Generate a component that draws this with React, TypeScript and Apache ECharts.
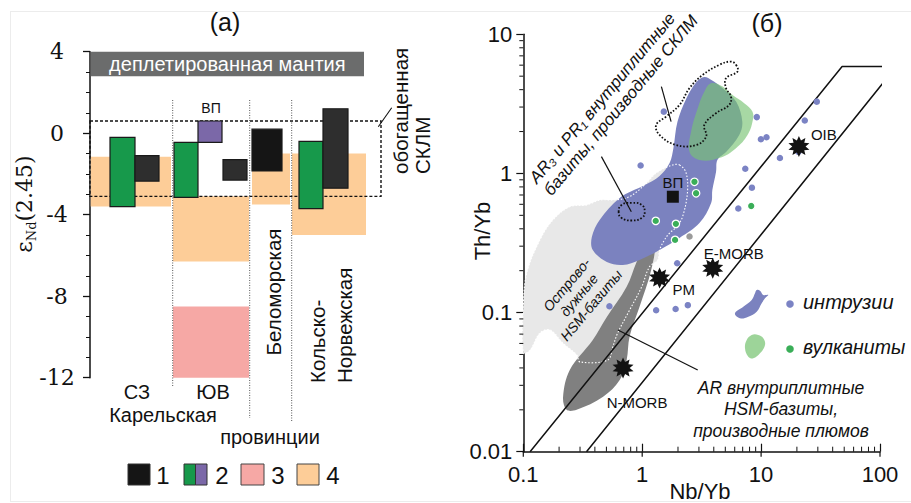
import React, { useEffect, useRef } from 'react';
import * as echarts from 'echarts';

const SANS = "'Liberation Sans', Arial, Helvetica, sans-serif";
const SERIF = "'DejaVu Serif', 'Liberation Serif', 'Noto Serif', 'Times New Roman', serif";

// ---------------- panel (a): εNd(2.45) ----------------
const provinces = ['СЗ', 'ЮВ', 'Беломорская', 'Кольско-Норвежская'];
const depletedMantle = [4, 2.8];
const enrichedSCLM = [0.6, -3.1];
const field4Top = [-1.15, -3.1, -1.0, -1.0];
const field4Bottom = [-3.6, -6.3, -3.5, -5.0];
const field3YuV = [-8.5, -12];
const type2GreenTop = [-0.2, -0.45, null, -0.4];
const type2GreenBottom = [-3.6, -3.15, null, -3.7];
const type2VP = [0.6, -0.45];
const type1Top = [-1.1, -1.3, 0.2, 1.2];
const type1Bottom = [-2.35, -2.3, -1.85, -2.7];

// ---------------- panel (б): Th/Yb vs Nb/Yb ----------------
const mantleArray = [[0.114, 0.01], [48, 5.86], [137, 5.86], [0.34, 0.01]];
const islandArcField = [[2.06, 1.15], [2.34, 1.01], [2.4, 0.724], [2.18, 0.486], [1.94, 0.412], [1.7, 0.373], [1.54, 0.333], [1.4, 0.282], [1.35, 0.239], [1.15, 0.213], [0.99, 0.153], [0.783, 0.104], [0.622, 0.0713], [0.565, 0.0566], [0.513, 0.0456], [0.299, 0.0442], [0.282, 0.0495], [0.216, 0.0601], [0.168, 0.075], [0.138, 0.0713], [0.114, 0.0538], [0.1, 0.0513], [0.1, 0.11], [0.107, 0.193], [0.138, 0.333], [0.178, 0.464], [0.246, 0.577], [0.342, 0.594], [0.44, 0.644], [0.565, 0.644], [0.74, 0.667], [0.897, 0.736], [1.09, 0.855], [1.32, 1.01], [1.8, 1.15]];
const plumeField = [[1.05, 0.306], [1.27, 0.316], [1.19, 0.202], [0.95, 0.11], [0.783, 0.0672], [0.74, 0.0456], [0.647, 0.0327], [0.469, 0.0248], [0.281, 0.02], [0.231, 0.02], [0.216, 0.0248], [0.246, 0.0387], [0.384, 0.0635], [0.504, 0.0929], [0.74, 0.153], [0.897, 0.231]];
const intrusionField = [[3.33, 4.94], [3.82, 4.7], [4.72, 4.12], [6.18, 3.27], [6.95, 2.35], [6.55, 1.89], [5.1, 1.43], [4.29, 1.25], [4.18, 1.03], [3.89, 0.76], [3.8, 0.614], [3.03, 0.44], [2.06, 0.344], [1.4, 0.282], [0.95, 0.239], [0.686, 0.22], [0.504, 0.231], [0.384, 0.282], [0.377, 0.349], [0.44, 0.464], [0.647, 0.667], [1.05, 0.826], [1.4, 0.96], [1.7, 1.19], [1.83, 1.52], [1.98, 2.35], [2.36, 3.49], [2.86, 4.55]];
const volcanicField = [[3.8, 4.45], [4.75, 4.21], [5.75, 3.66], [7.21, 3.2], [8.47, 2.78], [8.47, 2.36], [7.69, 1.89], [6.15, 1.52], [4.45, 1.29], [3.03, 1.25], [2.5, 1.43], [2.58, 2.0], [2.93, 2.94], [3.33, 3.87]];
const sclmLoop = [[6.15, 6.03], [6.34, 5.4], [5.07, 4.83], [5.07, 4.1], [5.58, 3.57], [5.4, 3.11], [4.18, 2.71], [3.33, 2.23], [3.45, 1.84], [2.84, 1.6], [1.93, 1.6], [1.4, 1.89], [1.31, 2.23], [1.59, 2.56], [2.06, 3.11], [2.5, 4.1], [3.23, 5.11], [4.45, 6.03], [5.58, 6.37]];
const sclmSmall = [[0.634, 0.528], [0.671, 0.594], [0.815, 0.614], [0.99, 0.594], [1.05, 0.528], [0.99, 0.479], [0.815, 0.459], [0.671, 0.479]];
const leaderLines = [
  [[1.45, 4.21], [1.75, 2.36]],
  [[0.454, 1.32], [0.81, 0.53]],
  [[0.625, 0.075], [2.93, 0.0387]],
];
const intrusionPoints = [[1.52, 2.78], [0.97, 1.14], [9.2, 2.54], [9.96, 1.76], [11.1, 1.82], [29.4, 3.28], [23.3, 2.4], [14.4, 1.29], [20.6, 1.43], [7.36, 1.08], [8.37, 0.79], [6.43, 0.56], [1.97, 0.226], [1.31, 0.104], [1.91, 0.106], [2.42, 0.113], [0.53, 0.111]];
const volcanicPoints = [[2.75, 0.87], [2.84, 0.72], [1.3, 0.456], [1.92, 0.434], [1.89, 0.333], [8.26, 0.583]];
const otherPoints = [[2.5, 0.352]];
const referenceNames = ['OIB', 'PM', 'E-MORB', 'N-MORB'];
const referenceNbYb = [20.8, 1.4, 3.92, 0.69];
const referenceThYb = [1.56, 0.177, 0.208, 0.04];
const vpPoint = [1.81, 0.68];

// ---------------- layout (pixel-like units along panel (a) x axis) ----------------
const LA = {
  field4: [[0.7, 81], [83, 159], [162, 200], [202, 276]],
  field3: [83, 159],
  green: [[20, 45], [84, 108], null, [209, 233]],
  dark: [[45, 69], [133, 157], [162, 192], [233, 258]],
  vp: [108, 132],
  depleted: [0.7, 274],
  sclm: [0, 291],
};
const labelOffsets = [[12, -12, 'left'], [13, 11, 'left'], [21, -15, 'center'], [14, 35, 'center']];

const C = {
  orange: '#fdcd98', pink: '#f6a8a5', green: '#17994b', purple: '#7b68a8',
  dark: '#2e2e2e', black: '#151515', mantle: '#6b6c6c',
  blue: '#7b82bf', volc: 'rgba(120,195,115,0.65)', plume: '#808080', arc: '#e8e8e8',
  bluePt: '#7b83c4', greenPt: '#3aae58',
};

function starburst(n: number, rOut: number, rIn: number) {
  let d = '';
  for (let i = 0; i < 2 * n; i++) {
    const r = i % 2 ? rIn : rOut;
    const a = (Math.PI * i) / n - Math.PI / 2;
    d += (i ? 'L' : 'M') + (50 + r * Math.cos(a)).toFixed(2) + ' ' + (50 + r * Math.sin(a)).toFixed(2) + ' ';
  }
  return 'path://' + d + 'Z';
}

function txt(text: string, x: number, y: number, o: any = {}) {
  return {
    type: 'text', x, y, rotation: o.rotation || 0, z: 100,
    style: {
      text, fill: o.fill || '#111', fontSize: o.fontSize || 20, fontFamily: o.fontFamily || SANS,
      fontStyle: o.fontStyle || 'normal', align: o.align || 'center', verticalAlign: o.verticalAlign || 'middle',
      textAlign: o.align || 'center', textVerticalAlign: o.verticalAlign || 'middle',
      lineHeight: o.lineHeight, rich: o.rich,
    },
  };
}
function gline(x1: number, y1: number, x2: number, y2: number, o: any = {}) {
  return { type: 'line', z: 100, shape: { x1, y1, x2, y2 }, style: { stroke: o.stroke || '#111', lineWidth: o.lw || 1, lineDash: o.dash } };
}

export default function App() {
  const ref = useRef<HTMLDivElement>(null);
  useEffect(() => {
    if (!ref.current) return;
    const chart = echarts.init(ref.current, null, { renderer: 'svg' });

    const boxes: any[] = [];
    boxes.push({ x0: LA.depleted[0], x1: LA.depleted[1], top: depletedMantle[0], bottom: depletedMantle[1], fill: C.mantle, text: 'деплетированная мантия' });
    for (let i = 0; i < provinces.length; i++) {
      boxes.push({ x0: LA.field4[i][0], x1: LA.field4[i][1], top: field4Top[i], bottom: field4Bottom[i], fill: C.orange });
    }
    boxes.push({ x0: LA.field3[0], x1: LA.field3[1], top: field3YuV[0], bottom: field3YuV[1], fill: C.pink });
    boxes.push({ x0: LA.sclm[0], x1: LA.sclm[1], top: enrichedSCLM[0], bottom: enrichedSCLM[1], fill: 'none', stroke: '#111', lw: 1.4, dash: [3, 2] });
    for (let i = 0; i < provinces.length; i++) {
      if (type2GreenTop[i] !== null && LA.green[i]) {
        boxes.push({ x0: LA.green[i]![0], x1: LA.green[i]![1], top: type2GreenTop[i], bottom: type2GreenBottom[i], fill: C.green, stroke: '#1a1a1a', lw: 1.2 });
      }
      boxes.push({ x0: LA.dark[i][0], x1: LA.dark[i][1], top: type1Top[i], bottom: type1Bottom[i], fill: i === 2 ? C.black : C.dark, stroke: '#1a1a1a', lw: 1.2 });
    }
    boxes.push({ x0: LA.vp[0], x1: LA.vp[1], top: type2VP[0], bottom: type2VP[1], fill: C.purple, stroke: '#1a1a1a', lw: 1.2 });

    const polySeries = (pts: number[][], style: any, smooth: number, z: number) => ({
      type: 'custom', xAxisIndex: 1, yAxisIndex: 1, z, silent: true, data: pts,
      encode: { x: 0, y: 1 },
      renderItem: (params: any, api: any) => {
        if (params.dataIndex !== 0) return null;
        return { type: 'polygon', shape: { points: pts.map((p) => api.coord(p)), smooth }, style };
      },
    });

    const axisMarks: number[][] = [];
    for (const dec of [0.1, 1, 10]) for (let k = 2; k <= 9; k++) axisMarks.push([dec * k, 0.01, 0]);
    for (const dec of [0.01, 0.1, 1]) for (let k = 2; k <= 9; k++) axisMarks.push([0.1, dec * k, 1]);
    for (const dec of [0.1, 1, 10, 100]) axisMarks.push([dec, 0.01, 2]);

    const star = starburst(10, 50, 30);

    const option: any = {
      animation: false,
      grid: [
        { left: 90, top: 51.7, width: 300, height: 326 },
        { left: 523.3, top: 34.3, width: 356.7, height: 417.4 },
      ],
      xAxis: [
        { type: 'value', gridIndex: 0, min: 0, max: 300, show: false },
        {
          type: 'log', logBase: 10, gridIndex: 1, min: 0.1, max: 100,
          axisLine: { lineStyle: { color: '#111', width: 1.5 } },
          axisTick: { inside: true, length: 8, lineStyle: { color: '#111', width: 1.2 } },
          axisLabel: { fontSize: 22, fontFamily: SANS, color: '#111', margin: 12 },
          splitLine: { show: false },
        },
      ],
      yAxis: [
        {
          type: 'value', gridIndex: 0, min: -12, max: 4, interval: 4,
          axisLine: { show: true, onZero: false, lineStyle: { color: '#111', width: 1.5 } },
          axisTick: { show: true, length: 7, lineStyle: { color: '#111', width: 1.3 } },
          minorTick: { show: true, splitNumber: 4, length: 4, lineStyle: { color: '#111', width: 1 } },
          splitLine: { show: false },
          axisLabel: {
            align: 'center', margin: 33, color: '#111', fontFamily: SERIF, fontSize: 22,
            formatter: (v: number) => '{s|' + v + '}',
            rich: { s: { fontFamily: SERIF, fontSize: 22, color: '#111' } },
          },
        },
        {
          type: 'log', logBase: 10, gridIndex: 1, min: 0.01, max: 10,
          axisLine: { show: true, lineStyle: { color: '#111', width: 1.5 } },
          axisTick: { show: true, length: 7, lineStyle: { color: '#111', width: 1.2 } },
          axisLabel: { fontSize: 22, fontFamily: SANS, color: '#111', margin: 11 },
          splitLine: { show: false },
        },
      ],
      series: [
        {
          type: 'custom', xAxisIndex: 0, yAxisIndex: 0, silent: true, z: 2,
          data: boxes.map((b) => [b.x0, b.x1, b.top, b.bottom]),
          encode: { x: [0, 1], y: [2, 3] },
          renderItem: (params: any, api: any) => {
            const b = boxes[params.dataIndex];
            const p0 = api.coord([b.x0, b.top]);
            const p1 = api.coord([b.x1, b.bottom]);
            const rect = {
              type: 'rect',
              shape: { x: p0[0], y: p0[1], width: p1[0] - p0[0], height: p1[1] - p0[1] },
              style: { fill: b.fill, stroke: b.stroke || null, lineWidth: b.lw || 0, lineDash: b.dash },
            };
            if (!b.text) return rect;
            return {
              type: 'group',
              children: [rect, {
                type: 'text', x: (p0[0] + p1[0]) / 2, y: (p0[1] + p1[1]) / 2,
                style: { text: b.text, fill: '#fff', fontSize: 20, fontFamily: SANS, align: 'center', verticalAlign: 'middle' },
              }],
            };
          },
        },
        polySeries(islandArcField, { fill: C.arc }, 0.35, 2),
        polySeries(plumeField, { fill: C.plume }, 0.35, 3),
        polySeries(intrusionField, { fill: C.blue }, 0.35, 4),
        polySeries(volcanicField, { fill: C.volc }, 0.4, 5),
        polySeries(islandArcField, { fill: 'none', stroke: '#ffffff', lineWidth: 1.1, lineDash: [1.5, 1.8] }, 0.35, 6),
        polySeries(sclmLoop, { fill: 'none', stroke: '#111', lineWidth: 1.8, lineDash: [1.6, 1.8] }, 0.4, 7),
        polySeries(sclmSmall, { fill: 'none', stroke: '#111', lineWidth: 1.8, lineDash: [1.6, 1.8] }, 0.5, 7),
        {
          type: 'line', xAxisIndex: 1, yAxisIndex: 1, data: mantleArray, symbol: 'none', clip: false, silent: true, z: 8,
          lineStyle: { color: '#111', width: 1.5 },
        },
        ...leaderLines.map((ln) => ({
          type: 'line', xAxisIndex: 1, yAxisIndex: 1, data: ln, symbol: 'none', silent: true, z: 8,
          lineStyle: { color: '#111', width: 1.2 },
        })),
        {
          type: 'custom', xAxisIndex: 1, yAxisIndex: 1, silent: true, z: 9, data: axisMarks, encode: { x: 0, y: 1 },
          clip: false,
          renderItem: (params: any, api: any) => {
            const p = api.coord([api.value(0), api.value(1)]);
            const k = api.value(2);
            let shape;
            if (k === 0) shape = { x1: p[0], y1: p[1], x2: p[0], y2: p[1] - 5 };
            else if (k === 1) shape = { x1: p[0] - 4, y1: p[1], x2: p[0], y2: p[1] };
            else shape = { x1: p[0], y1: p[1], x2: p[0], y2: p[1] + 5 };
            return { type: 'line', shape, style: { stroke: '#111', lineWidth: k === 2 ? 1.2 : 1 } };
          },
        },
        {
          type: 'scatter', xAxisIndex: 1, yAxisIndex: 1, data: intrusionPoints, symbolSize: 6.5, z: 10, silent: true,
          itemStyle: { color: C.bluePt, opacity: 1 },
        },
        {
          type: 'scatter', xAxisIndex: 1, yAxisIndex: 1, data: volcanicPoints, symbolSize: 7.5, z: 10, silent: true,
          itemStyle: { color: C.greenPt, borderColor: '#fff', borderWidth: 1.2, opacity: 1 },
        },
        {
          type: 'scatter', xAxisIndex: 1, yAxisIndex: 1, data: otherPoints, symbolSize: 6.5, z: 10, silent: true,
          itemStyle: { color: '#9a9a9a', opacity: 1 },
        },
        {
          type: 'scatter', xAxisIndex: 1, yAxisIndex: 1, symbol: star, symbolSize: 21, z: 11, silent: true,
          itemStyle: { color: '#121212', opacity: 1 },
          data: referenceNames.map((n, i) => ({
            name: n, value: [referenceNbYb[i], referenceThYb[i]],
            label: {
              show: true, position: 'inside', formatter: n, offset: [labelOffsets[i][0], labelOffsets[i][1]],
              align: labelOffsets[i][2], verticalAlign: 'middle', color: '#111', fontSize: 15, fontFamily: SANS,
            },
          })),
        },
        {
          type: 'scatter', xAxisIndex: 1, yAxisIndex: 1, symbol: 'rect', symbolSize: 12, z: 11, silent: true,
          itemStyle: { color: '#121212', opacity: 1 },
          data: [{
            name: 'ВП', value: vpPoint,
            label: { show: true, position: 'inside', formatter: 'ВП', offset: [0, -14], color: '#111', fontSize: 15, fontFamily: SANS },
          }],
        },
      ],
      graphic: [
        gline(10, 11.5, 911, 11.5, { stroke: '#ececec' }),
        gline(10.5, 11.5, 10.5, 501.5, { stroke: '#ececec' }),
        gline(10, 501.5, 911, 501.5, { stroke: '#ececec' }),
        txt('(a)', 225, 22, { fontSize: 25 }),
        txt('{e|ε}{s|Nd}{e|(2.45)}', 25, 204, {
          rotation: Math.PI / 2,
          rich: {
            e: { fontSize: 22, fontFamily: SERIF, verticalAlign: 'top', lineHeight: 24 },
            s: { fontSize: 13, fontFamily: SERIF, verticalAlign: 'top', lineHeight: 13, padding: [12, 0, 0, 0] },
          },
        }),
        gline(172.7, 100, 172.7, 387, { stroke: '#555', dash: [1, 1.5] }),
        gline(249.7, 100, 249.7, 418, { stroke: '#555', dash: [1, 1.5] }),
        gline(291.7, 100, 291.7, 421, { stroke: '#555', dash: [1, 1.5] }),
        txt('ВП', 211, 108, { fontSize: 14 }),
        txt(provinces[0], 137, 392, { fontSize: 20 }),
        txt(provinces[1], 213, 392, { fontSize: 20 }),
        txt('Карельская', 163, 415, { fontSize: 20 }),
        txt('провинции', 270, 437, { fontSize: 20 }),
        txt(provinces[2], 273, 292, { fontSize: 20.5, rotation: Math.PI / 2 }),
        txt('Кольско-', 317, 383, { fontSize: 20.5, rotation: Math.PI / 2, align: 'left' }),
        txt('Норвежская', 344, 383, { fontSize: 20.5, rotation: Math.PI / 2, align: 'left' }),
        txt('обогащенная', 400, 174, { fontSize: 20.5, rotation: Math.PI / 2, align: 'left' }),
        txt('СКЛМ', 422, 174, { fontSize: 20.5, rotation: Math.PI / 2, align: 'left' }),
        gline(378.3, 126.7, 391.7, 107.8, { lw: 1.1 }),
        { type: 'rect', z: 100, shape: { x: 128, y: 464, width: 22, height: 21 }, style: { fill: C.black, stroke: '#333', lineWidth: 1 } },
        txt('1', 163, 475, { fontSize: 24 }),
        { type: 'rect', z: 100, shape: { x: 184, y: 464, width: 11.5, height: 21 }, style: { fill: C.green, stroke: '#333', lineWidth: 1 } },
        { type: 'rect', z: 100, shape: { x: 195.5, y: 464, width: 11.5, height: 21 }, style: { fill: C.purple, stroke: '#333', lineWidth: 1 } },
        txt('2', 222, 475, { fontSize: 24 }),
        { type: 'rect', z: 100, shape: { x: 241, y: 464, width: 23, height: 21 }, style: { fill: C.pink, stroke: '#444', lineWidth: 1 } },
        txt('3', 278, 475, { fontSize: 24 }),
        { type: 'rect', z: 100, shape: { x: 297, y: 464, width: 22, height: 21 }, style: { fill: C.orange, stroke: '#444', lineWidth: 1 } },
        txt('4', 333, 475, { fontSize: 24 }),
        txt('(б)', 767, 23, { fontSize: 25 }),
        txt('Th/Yb', 482, 231, { fontSize: 22, rotation: Math.PI / 2 }),
        txt('Nb/Yb', 700, 491, { fontSize: 22 }),
        txt('AR\u2083 и PR\u2081 внутриплитные\nбазиты, производные СКЛМ', 540, 187, {
          fontSize: 17, fontStyle: 'italic', align: 'left', rotation: (50 * Math.PI) / 180, lineHeight: 19,
        }),
        txt('Острово-\nдужные\nHSM-базиты', 579, 295, {
          fontSize: 14, fontStyle: 'italic', rotation: (50 * Math.PI) / 180, lineHeight: 16,
        }),
        txt('AR внутриплитные\nHSM-базиты,\nпроизводные плюмов', 781, 409, {
          fontSize: 17.5, fontStyle: 'italic', lineHeight: 21.5,
        }),
        {
          type: 'polygon', z: 100,
          shape: { points: [[735, 313.3], [743.3, 306.7], [751.7, 300], [755, 293.3], [756.7, 290], [760, 290.7], [763.3, 295], [768.3, 295], [765, 298.3], [761.7, 303.3], [756.7, 311.7], [748.3, 316.7], [740, 318.3]], smooth: 0.4 },
          style: { fill: C.blue },
        },
        {
          type: 'polygon', z: 100,
          shape: { points: [[746.7, 340], [751.7, 335], [758.3, 335], [763.3, 338.3], [765, 345], [760, 353.3], [753.3, 358.3], [748.3, 356.7], [745, 348.3]], smooth: 0.4 },
          style: { fill: 'rgba(140,205,135,0.85)' },
        },
        { type: 'circle', z: 100, shape: { cx: 790, cy: 304, r: 3.8 }, style: { fill: C.bluePt } },
        { type: 'circle', z: 100, shape: { cx: 790, cy: 349, r: 3.8 }, style: { fill: C.greenPt } },
        txt('интрузии', 803, 302, { fontSize: 20, fontStyle: 'italic', align: 'left' }),
        txt('вулканиты', 803, 347, { fontSize: 19.5, fontStyle: 'italic', align: 'left' }),
      ],
    };
    chart.setOption(option);
    return () => chart.dispose();
  }, []);
  return <div ref={ref} style={{ position: 'fixed', left: 0, top: 0, width: 911, height: 503, background: '#fff' }} />;
}
